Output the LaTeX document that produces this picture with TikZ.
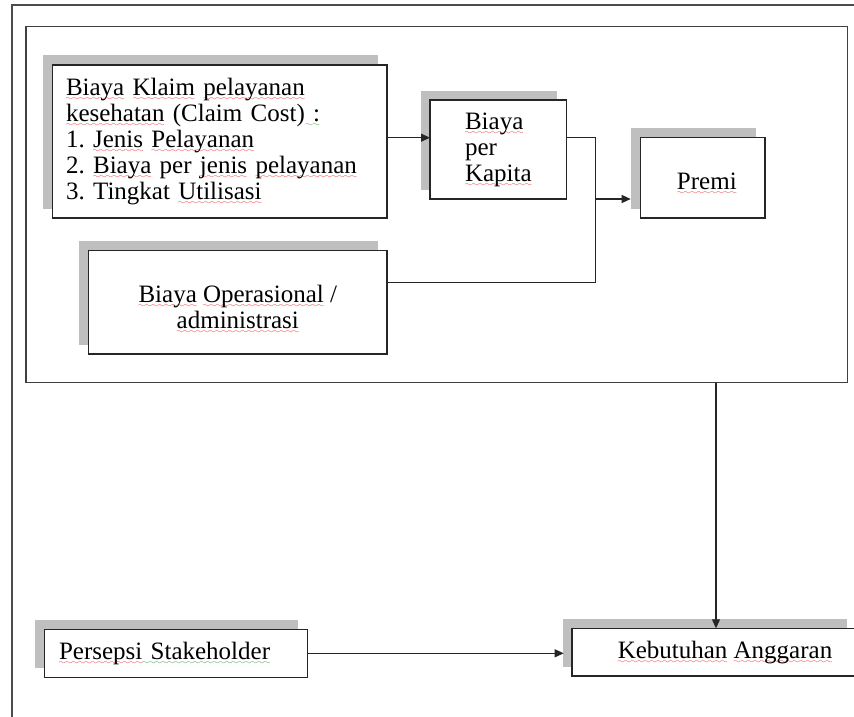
\documentclass[tikz,border=0pt]{standalone}
\usepackage{fontspec}
\setmainfont{Liberation Serif}
\usetikzlibrary{arrows.meta,shadows}
\definecolor{shadowgray}{HTML}{BFBFBF}
\definecolor{spellred}{HTML}{F02828}
\definecolor{grammargreen}{HTML}{28A028}
\font\mywavefont=lasy6 scaled 1250
\newsavebox\mywordbox
\newcommand\wavedword[2]{\leavevmode\sbox\mywordbox{#2}\rlap{\textcolor{#1}{\lower5pt\hbox to\wd\mywordbox{\xleaders\hbox{\mywavefont\char58}\hfil}}}\usebox\mywordbox}
\newcommand\spellw[1]{\wavedword{spellred}{#1}}
\newcommand\gramw[1]{\wavedword{grammargreen}{#1}}
\frenchspacing
\tikzset{
  txt/.style={font=\fontsize{25pt}{26pt}\selectfont},
  box/.style={txt, draw=black!85, line width=1.2pt, fill=white, inner sep=0pt, outer sep=0pt,
    anchor=north west,
    general shadow={fill=shadowgray, shadow xshift=-9.5pt, shadow yshift=9.5pt}},
  framebox/.style={draw=black!75, line width=1.3pt, inner sep=0pt, outer sep=0pt, anchor=north west},
  conn/.style={line width=1.1pt, draw=black!85},
  arr/.style={conn, -{Triangle[length=9pt,width=8pt]}},
}
\begin{document}
\begin{tikzpicture}[x=1pt, y=-1pt]
\useasboundingbox (0,0) rectangle (854,717);
\clip (0,0) rectangle (854,717);
\fill[white] (0,0) rectangle (854,717);
% outer frame
\draw[draw=black!70, line width=1.5pt] (12,900) -- (12,5) -- (900,5);
% inner frame
\node[framebox, minimum width=821.7pt, minimum height=356pt] (frame) at (26,26.7) {};
% boxes
\node[box, minimum width=334.3pt, minimum height=153pt, text width=307.7pt, align=left] (klaim) at (52.7,65)
 {\spellw{Biaya} \spellw{Klaim} \spellw{pelayanan}\\
  \spellw{kesehatan} (Claim Cost)\gramw{\ :}\\
  1. \spellw{Jenis} \spellw{Pelayanan}\\
  2. \spellw{Biaya} per \spellw{jenis} \spellw{pelayanan}\\
  3. Tingkat \spellw{Utilisasi}};
\node[box, minimum width=136.7pt, minimum height=99pt, align=left] (kapita) at (430,100)
 {\spellw{Biaya}\\ per\\ \spellw{Kapita}};
\node[box, minimum width=124.3pt, minimum height=80.7pt] (premi) at (640.7,137.3)
 {\rule{0pt}{29pt}\hspace*{8pt}\spellw{Premi}};
\node[box, minimum width=298.4pt, minimum height=103.3pt, align=center] (ops) at (88.6,250.7)
 {\rule{0pt}{31pt}\spellw{Biaya} \spellw{Operasional} /\\ \spellw{administrasi}};
\node[box, minimum width=263pt, minimum height=48pt, text width=234.4pt, align=left] (persepsi) at (44.7,629.3)
 {\spellw{Persepsi}\gramw{\ Stakeholder}};
\node[box, minimum width=284pt, minimum height=47.7pt] (kebutuhan) at (572,628.3)
 {\hspace*{22pt}\spellw{Kebutuhan} \spellw{Anggaran}};
% connectors
\draw[arr] ([yshift=3.8pt]klaim.east) -- ([yshift=3.8pt]klaim.east -| kapita.west);
\coordinate (j) at (595.5,199);
\draw[conn] ([yshift=11.8pt]kapita.east) -| (j);
\draw[conn] ([yshift=20pt]ops.east) -| (j);
\draw[arr, shorten >=10pt] (j) -- (j -| premi.west);
\coordinate (kt) at ([xshift=2pt]kebutuhan.north);
\draw[arr] (kt |- frame.south) -- (kt);
\draw[arr, shorten >=8.3pt] (persepsi.east) -- (persepsi.east -| kebutuhan.west);
\end{tikzpicture}
\end{document}
